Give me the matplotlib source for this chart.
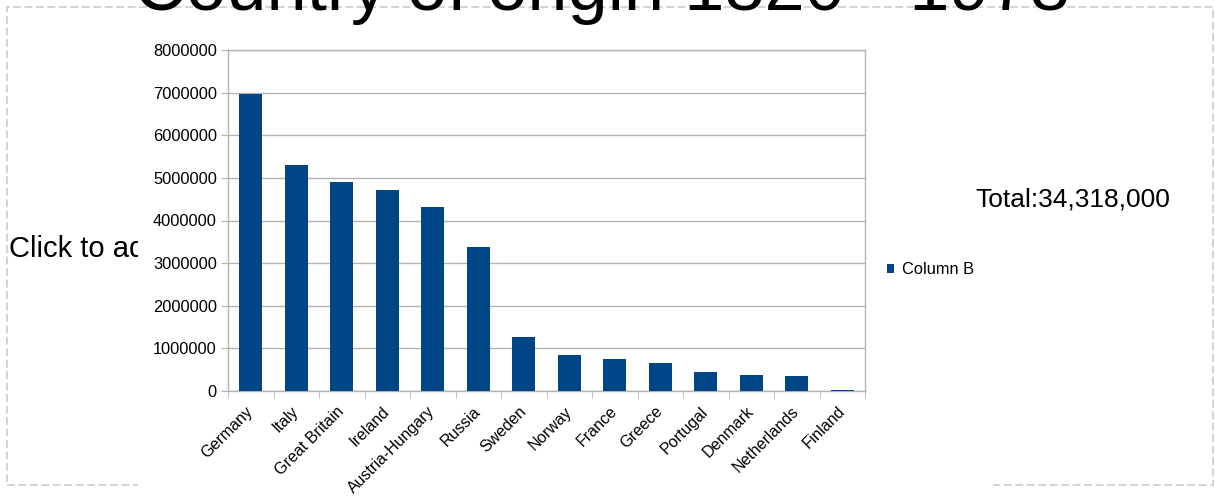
import matplotlib
matplotlib.use("Agg")
import matplotlib.pyplot as plt
from matplotlib.patches import Rectangle

countries = ["Germany", "Italy", "Great Britain", "Ireland", "Austria-Hungary", "Russia",
             "Sweden", "Norway", "France", "Greece", "Portugal", "Denmark", "Netherlands", "Finland"]
immigrants = [6978000, 5294000, 4898000, 4723000, 4315000, 3374000,
              1272000, 856000, 751000, 655000, 446000, 364000, 358000, 33000]
y_ticks = [0, 1000000, 2000000, 3000000, 4000000, 5000000, 6000000, 7000000, 8000000]
title = "Country of origin 1820 - 1978"
series_name = "Column B"
total_label = "Total:34,318,000"
placeholder = "Click to ad"

plt.rcParams['font.family'] = ['Liberation Sans', 'DejaVu Sans']

W, H = 1215, 496
fig = plt.figure(figsize=(W / 100, H / 100), dpi=100)
fig.patch.set_facecolor("white")

# dashed placeholder frame
frame = Rectangle((7 / W, 11 / H), 1206 / W, 478 / H, transform=fig.transFigure,
                  fill=False, ec="#c8c8c8", lw=1.1, ls=(0, (5.2, 2.3)), zorder=0.5)
fig.patches.append(frame)

fig.text(9 / W, (H - 257) / H, placeholder, fontsize=21, color="black",
         ha="left", va="baseline", zorder=0.6)

# white chart background
bg = Rectangle((138 / W, 0), 855 / W, (H - 15) / H, transform=fig.transFigure,
               fc="white", ec="none", zorder=0.7)
fig.patches.append(bg)

ax = fig.add_axes([228 / W, (H - 391) / H, 637 / W, 341 / H])
ax.set_zorder(2)
x = list(range(len(countries)))
ax.bar(x, immigrants, width=0.5, color="#004586", label=series_name, zorder=3)

ax.set_xlim(-0.5, len(countries) - 0.5)
ax.set_ylim(0, 8000000)
ax.set_yticks(y_ticks)
ax.set_yticklabels([str(v) for v in y_ticks])
ax.set_xticks(x)
ax.set_xticklabels(countries, rotation=45, ha="right", va="center", rotation_mode="anchor")
ax.set_xticks([i - 0.5 for i in range(len(countries) + 1)], minor=True)

grid_c = "#b3b3b3"
ax.yaxis.grid(True, color=grid_c, lw=1, zorder=0)
ax.set_axisbelow(True)
for s in ["left", "bottom", "right", "top"]:
    ax.spines[s].set_color(grid_c)
    ax.spines[s].set_linewidth(1)
ax.tick_params(axis="y", which="major", length=5, color=grid_c, labelsize=11.8, pad=3)
ax.tick_params(axis="x", which="major", length=0, labelsize=11.5, pad=13)
ax.tick_params(axis="x", which="minor", length=5, color=grid_c)

fig.legend(handles=ax.get_legend_handles_labels()[0], labels=[series_name],
           loc="center left", bbox_to_anchor=(887 / W, (H - 270) / H),
           frameon=False, fontsize=11.8, handlelength=0.45, handleheight=0.45,
           handletextpad=0.45, borderpad=0, borderaxespad=0)

fig.text(602 / W, (H - 10) / H, title, fontsize=52, color="black",
         ha="center", va="baseline", zorder=5)
fig.text(975 / W, (H - 207) / H, total_label, fontsize=19, color="black",
         ha="left", va="baseline", zorder=5)

fig.savefig("out.png", dpi=100)
